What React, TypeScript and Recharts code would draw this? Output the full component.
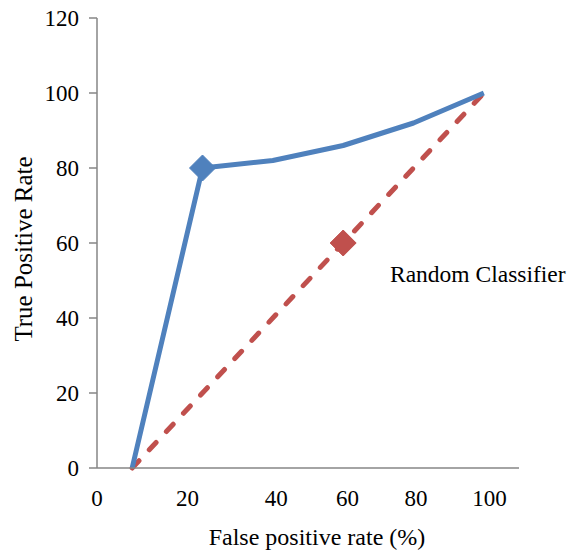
import { Label, Line, LineChart, XAxis, YAxis } from "recharts";

// ROC curve points (false positive rate, true positive rate)
const rocFpr = [0, 20, 40, 60, 80, 100];
const rocTpr = [0, 80, 82, 86, 92, 100];
const rocMarkerIndex = 1;

// random classifier diagonal
const randomFpr = [0, 60, 100];
const randomTpr = [0, 60, 100];
const randomMarkerIndex = 1;

// x tick labels and where they sit on the axis
const xTickValues = [-10, 15.7, 41, 61.2, 80.7, 101.6];
const xTickLabels = ["0", "20", "40", "60", "80", "100"];
const yTicks = [0, 20, 40, 60, 80, 100, 120];

const rocData = rocFpr.map((x, i) => ({ x, y: rocTpr[i] }));
const randomData = randomFpr.map((x, i) => ({ x, y: randomTpr[i] }));

const BLUE = "#4f81bd";
const RED = "#c0504d";
const AXIS = "#868686";
const FONT = "'Liberation Serif', 'Times New Roman', serif";

const diamondDot = (color: string, markerIndex: number) => (props: any) => {
  const { cx, cy, index } = props;
  if (index !== markerIndex) return <g key={`d-${index}`} />;
  const r = 13;
  return (
    <polygon
      key={`d-${index}`}
      points={`${cx},${cy - r} ${cx + r},${cy} ${cx},${cy + r} ${cx - r},${cy}`}
      fill={color}
      stroke={color}
    />
  );
};

const XTick = ({ x, y, payload }: any) => (
  <text x={x} y={y + 36} textAnchor="middle" fontFamily={FONT} fontSize={23} fill="#000">
    {xTickLabels[xTickValues.indexOf(payload.value)] ?? ""}
  </text>
);

const YTick = ({ x, y, payload }: any) => (
  <text x={x} y={y + 8} textAnchor="end" fontFamily={FONT} fontSize={23} fill="#000">
    {payload.value}
  </text>
);

export default function App() {
  return (
    <div
      style={{
        position: "absolute",
        left: 0,
        top: 0,
        width: 575,
        height: 552,
        background: "#fff",
        fontFamily: FONT,
      }}
    >
      <LineChart width={575} height={552} margin={{ top: 18, right: 56, bottom: 0, left: 0 }}>
        <XAxis
          dataKey="x"
          type="number"
          domain={[-10, 110]}
          allowDataOverflow
          ticks={xTickValues}
          tickLine={false}
          tickSize={0}
          height={84}
          stroke={AXIS}
          strokeWidth={1.5}
          tick={<XTick />}
          interval={0}
        >
          <Label
            content={({ viewBox }: any) => (
              <text
                x={viewBox.x + viewBox.width / 2 + 9}
                y={545}
                textAnchor="middle"
                fontFamily={FONT}
                fontSize={24}
                fill="#000"
              >
                False positive rate (%)
              </text>
            )}
          />
        </XAxis>
        <YAxis
          type="number"
          domain={[0, 120]}
          ticks={yTicks}
          width={97}
          tickSize={8}
          tickMargin={10}
          stroke={AXIS}
          strokeWidth={1.5}
          tick={<YTick />}
          interval={0}
        >
          <Label
            content={({ viewBox }: any) => {
              const cx = 32;
              const cy = viewBox.y + viewBox.height / 2 + 6;
              return (
                <text
                  x={cx}
                  y={cy}
                  transform={`rotate(-90 ${cx} ${cy})`}
                  textAnchor="middle"
                  fontFamily={FONT}
                  fontSize={25}
                  fill="#000"
                >
                  True Positive Rate
                </text>
              );
            }}
          />
        </YAxis>
        <Line
          data={randomData}
          dataKey="y"
          stroke={RED}
          strokeWidth={5}
          strokeDasharray="10 15"
          strokeLinecap="round"
          dot={diamondDot(RED, randomMarkerIndex)}
          activeDot={false}
          isAnimationActive={false}
        />
        <Line
          data={rocData}
          dataKey="y"
          stroke={BLUE}
          strokeWidth={5}
          strokeLinejoin="round"
          dot={diamondDot(BLUE, rocMarkerIndex)}
          activeDot={false}
          isAnimationActive={false}
        />
        <text x={390} y={282} fontFamily={FONT} fontSize={23.5} fill="#000">
          Random Classifier
        </text>
      </LineChart>
    </div>
  );
}
